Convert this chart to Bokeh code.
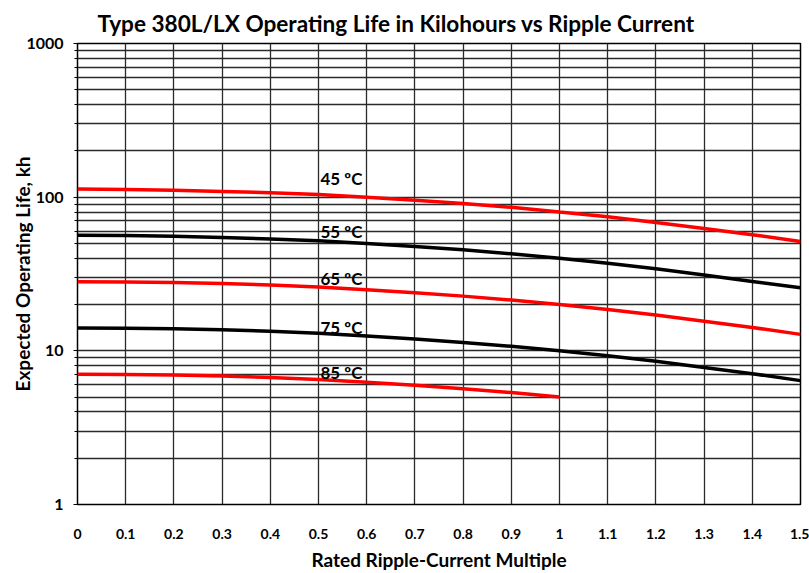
from bokeh.plotting import figure
from bokeh.models import FixedTicker, Range1d, Label
from bokeh.embed import file_html
from bokeh.resources import INLINE

x_vals = [0.0, 0.1, 0.2, 0.3, 0.4, 0.5, 0.6, 0.7, 0.8, 0.9, 1.0, 1.1, 1.2, 1.3, 1.4, 1.5]
life_45 = [113, 112, 111, 109, 107, 104, 100, 95.5, 91, 86, 80, 74.5, 68.5, 62.5, 57, 51.5]
life_55 = [56.5, 56.2, 55.6, 54.7, 53.5, 52, 50, 47.8, 45.4, 42.8, 40, 37.2, 34.2, 31.2, 28.3, 25.7]
life_65 = [28.2, 28.1, 27.8, 27.4, 26.8, 26, 25, 23.9, 22.7, 21.4, 20, 18.6, 17.1, 15.6, 14.2, 12.8]
life_75 = [14.1, 14.05, 13.9, 13.7, 13.4, 13, 12.5, 11.95, 11.35, 10.7, 10, 9.3, 8.55, 7.8, 7.1, 6.4]
x_85 = [0.0, 0.1, 0.2, 0.3, 0.4, 0.5, 0.6, 0.7, 0.8, 0.9, 1.0]
life_85 = [7.05, 7.02, 6.95, 6.85, 6.7, 6.5, 6.25, 5.97, 5.67, 5.35, 5.0]

curve_names = ["45 ºC", "55 ºC", "65 ºC", "75 ºC", "85 ºC"]
label_x = [0.5, 0.5, 0.5, 0.5, 0.5]
label_y = [131.5, 59.9, 29.6, 14.2, 7.27]

x_ticks = [0.0, 0.1, 0.2, 0.3, 0.4, 0.5, 0.6, 0.7, 0.8, 0.9, 1.0, 1.1, 1.2, 1.3, 1.4, 1.5]
x_tick_labels = ["0", "0.1", "0.2", "0.3", "0.4", "0.5", "0.6", "0.7", "0.8", "0.9", "1", "1.1", "1.2", "1.3", "1.4", "1.5"]
y_ticks = [1, 10, 100, 1000]
y_tick_labels = ["1", "10", "100", "1000"]
y_minor = [2, 3, 4, 5, 6, 7, 8, 9, 20, 30, 40, 50, 60, 70, 80, 90, 200, 300, 400, 500, 600, 700, 800, 900]

x_title = "Rated Ripple-Current Multiple"
y_title = "Expected Operating Life, kh"
chart_title = "Type 380L/LX Operating Life in Kilohours vs Ripple Current"

FONT = "Lato"

p = figure(width=809, height=573, y_axis_type="log", output_backend="svg",
           toolbar_location=None, x_range=Range1d(0, 1.5), y_range=Range1d(1, 1000),
           min_border_left=77, min_border_right=9, min_border_top=43, min_border_bottom=67)

p.title.text = chart_title
p.title.text_font = FONT
p.title.text_font_size = "22.6px"
p.title.text_font_style = "bold"
p.title.align = "left"
p.title.offset = 20
p.title.standoff = 13
p.title.text_color = "black"

p.outline_line_color = "black"
p.outline_line_width = 1.5
p.outline_line_alpha = 1

p.xaxis.ticker = FixedTicker(ticks=x_ticks)
p.xaxis.major_label_overrides = {t: l for t, l in zip(x_ticks, x_tick_labels)}
p.yaxis.ticker = FixedTicker(ticks=y_ticks, minor_ticks=y_minor)
p.yaxis.major_label_overrides = {t: l for t, l in zip(y_ticks, y_tick_labels)}

for ax in (p.xaxis[0], p.yaxis[0]):
    ax.axis_line_color = None
    ax.major_label_text_font = FONT
    ax.major_label_text_font_style = "bold"
    ax.major_label_text_color = "black"
    ax.axis_label_text_font = FONT
    ax.axis_label_text_font_style = "bold"
    ax.axis_label_text_font_size = "19px"
    ax.axis_label_text_color = "black"

p.xaxis.major_label_text_font_size = "14px"
p.yaxis.major_label_text_font_size = "16px"

p.xaxis.major_tick_line_color = None
p.xaxis.minor_tick_line_color = None
p.xaxis.major_label_standoff = 18
p.xaxis.axis_label = x_title
p.xaxis.axis_label_standoff = 6

p.yaxis.major_tick_in = 0
p.yaxis.minor_tick_in = 0
p.yaxis.major_tick_out = 4
p.yaxis.minor_tick_out = 3
p.yaxis.major_tick_line_color = "black"
p.yaxis.minor_tick_line_color = "black"
p.yaxis.major_label_standoff = 10
p.yaxis.axis_label = y_title
p.yaxis.axis_label_standoff = -11

p.xgrid.grid_line_color = "#2a2a2a"
p.xgrid.grid_line_width = 1.3
p.ygrid.grid_line_color = "#2a2a2a"
p.ygrid.grid_line_width = 1.3
p.ygrid.minor_grid_line_color = "#2a2a2a"
p.ygrid.minor_grid_line_width = 1.3

p.line(x_vals, life_45, line_color="#ff0000", line_width=3.5)
p.line(x_vals, life_55, line_color="black", line_width=3.5)
p.line(x_vals, life_65, line_color="#ff0000", line_width=3.5)
p.line(x_vals, life_75, line_color="black", line_width=3.5)
p.line(x_85, life_85, line_color="#ff0000", line_width=3.5)

for name, lx, ly in zip(curve_names, label_x, label_y):
    p.add_layout(Label(x=lx, y=ly, text=name, text_font=FONT, text_font_style="bold",
                       text_font_size="17px", text_baseline="middle", text_align="left",
                       x_offset=2, text_color="black"))

open("out.html", "w").write(file_html(p, INLINE))
